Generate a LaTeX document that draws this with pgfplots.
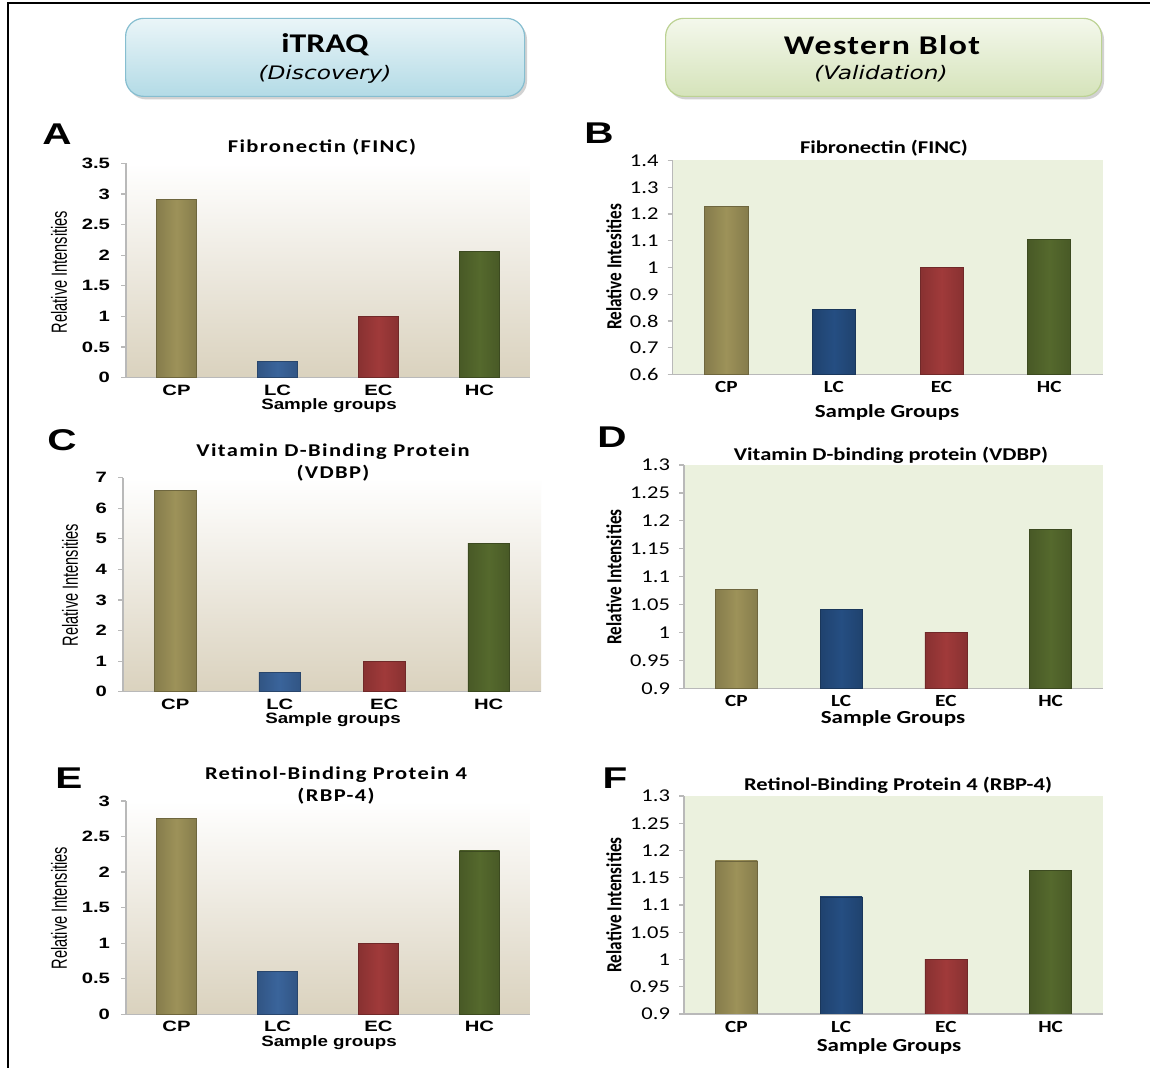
\documentclass[border=0pt]{standalone}
\usepackage{pgfplots}
\pgfplotsset{compat=1.18}
\usepackage{fontspec}
\setmainfont{Carlito}
\newfontfamily\arialf{Liberation Sans}
\newfontfamily\dejavu{DejaVu Sans}
\newfontfamily\carls[LetterSpace=6]{Carlito}
\newfontfamily\carlw[LetterSpace=4]{Carlito}
\usetikzlibrary{shadows}

\definecolor{cp}{HTML}{9D9259}
\definecolor{lcl}{HTML}{3A649B}
\definecolor{lcr}{HTML}{254E82}
\definecolor{ec}{HTML}{A03A3A}
\definecolor{hc}{HTML}{55692D}
\definecolor{tanbg}{HTML}{DAD2BE}
\definecolor{greenbg}{HTML}{EBF1DE}
\definecolor{blueTop}{HTML}{EAF5F8}
\definecolor{blueBot}{HTML}{B3DBE6}
\definecolor{blueEdge}{HTML}{86BED0}
\definecolor{grnTop}{HTML}{F4F8EC}
\definecolor{grnBot}{HTML}{D5E3BA}
\definecolor{grnEdge}{HTML}{BCD293}

\newcommand{\sx}[1]{\scalebox{1.25}[1]{#1}}
\newcommand{\sxx}[1]{\scalebox{1.35}[1]{#1}}
\newcommand{\sy}[1]{\scalebox{1}[1.5]{#1}}
\newcommand{\syr}[1]{\scalebox{1}[1.25]{#1}}

\pgfplotsset{
  common/.style={
    scale only axis, anchor=south west,
    axis lines*=left,
    xmin=-0.5, xmax=3.5, xtick={0,1,2,3},
    major x tick style={draw=none},
    tick align=outside, major tick length=2.5pt,
    axis line style={gray!55, line width=0.6pt},
    major y tick style={gray!55, line width=0.6pt},
    xticklabel style={yshift=2.5pt},
  },
  leftax/.style={
    common,
    axis background/.style={top color=white, bottom color=tanbg},
    xticklabels={\sxx{CP},\sxx{LC},\sxx{EC},\sxx{HC}},
    ticklabel style={font=\arialf\bfseries\fontsize{7.5}{8}\selectfont},
    yticklabel style={xshift=-2pt},
  },
  rightax/.style={
    common,
    axis background/.style={fill=greenbg},
    xticklabels={\sx{CP},\sx{LC},\sx{EC},\sx{HC}},
    xticklabel style={font=\bfseries\fontsize{8.5}{9}\selectfont},
    yticklabel style={font=\fontsize{9}{10}\selectfont, xshift=-1pt},
  },
  barst/.style={ybar, bar width=0.4, bar shift=0pt, draw=#1!70!black, line width=0.3pt,
    left color=#1!85!black, right color=#1!85!black, middle color=#1},
}

\begin{document}
\begin{tikzpicture}
\useasboundingbox (0,0) rectangle (575pt,534pt);
\fill[white] (0,0) rectangle (575pt,534pt);
% frame
\draw[black, line width=1.3pt] (4pt,0pt) -- (4pt,532.5pt) -- (575pt,532.5pt);

% header boxes
\node[draw=blueEdge, line width=0.6pt, rounded corners=9pt, top color=blueTop, bottom color=blueBot,
  drop shadow={shadow xshift=1.2pt, shadow yshift=-1.5pt, opacity=0.35},
  minimum width=199.5pt, minimum height=39pt, anchor=south west, inner sep=0pt] at (62.5pt,485.5pt) {};
\node[font=\bfseries\fontsize{13.5}{14}\selectfont] at (162.5pt,511.5pt) {\sx{iTRAQ}};
\node[font=\dejavu\itshape\fontsize{9.3}{10}\selectfont] at (162.5pt,497pt) {\sx{(Discovery)}};

\node[draw=grnEdge, line width=0.6pt, rounded corners=9pt, top color=grnTop, bottom color=grnBot,
  drop shadow={shadow xshift=1.2pt, shadow yshift=-1.5pt, opacity=0.35},
  minimum width=218pt, minimum height=39pt, anchor=south west, inner sep=0pt] at (332.5pt,485.5pt) {};
\node[font=\carlw\bfseries\fontsize{13.5}{14}\selectfont] at (441pt,511.5pt) {\sx{Western Blot}};
\node[font=\dejavu\itshape\fontsize{9.3}{10}\selectfont] at (440.5pt,497pt) {\sx{(Validation)}};

% ---------- A ----------
\begin{axis}[leftax, at={(63pt,345.25pt)}, width=202pt, height=107pt,
  ymin=0, ymax=3.5, ytick={0,0.5,1,1.5,2,2.5,3,3.5},
  yticklabels={\sxx{0},\sxx{0.5},\sxx{1},\sxx{1.5},\sxx{2},\sxx{2.5},\sxx{3},\sxx{3.5}}]
\addplot[barst=cp] coordinates {(0,2.915)};
\addplot[barst=lcl] coordinates {(1,0.262)};
\addplot[barst=ec] coordinates {(2,1.0)};
\addplot[barst=hc] coordinates {(3,2.067)};
\end{axis}

% ---------- B ----------
\begin{axis}[rightax, at={(336.25pt,346.75pt)}, width=215.25pt, height=107pt,
  ymin=0.6, ymax=1.4, ytick={0.6,0.7,0.8,0.9,1,1.1,1.2,1.3,1.4},
  yticklabels={\sx{0.6},\sx{0.7},\sx{0.8},\sx{0.9},\sx{1},\sx{1.1},\sx{1.2},\sx{1.3},\sx{1.4}}]
\addplot[barst=cp] coordinates {(0,1.229)};
\addplot[barst=lcr] coordinates {(1,0.842)};
\addplot[barst=ec] coordinates {(2,1.0)};
\addplot[barst=hc] coordinates {(3,1.104)};
\end{axis}

% ---------- C ----------
\begin{axis}[leftax, at={(61.5pt,188.15pt)}, width=209pt, height=107pt,
  ymin=0, ymax=7, ytick={0,1,2,3,4,5,6,7},
  yticklabels={\sxx{0},\sxx{1},\sxx{2},\sxx{3},\sxx{4},\sxx{5},\sxx{6},\sxx{7}}]
\addplot[barst=cp] coordinates {(0,6.58)};
\addplot[barst=lcl] coordinates {(1,0.63)};
\addplot[barst=ec] coordinates {(2,1.0)};
\addplot[barst=hc] coordinates {(3,4.86)};
\end{axis}

% ---------- D ----------
\begin{axis}[rightax, at={(342pt,189.85pt)}, width=209.5pt, height=111.65pt,
  ymin=0.9, ymax=1.3, ytick={0.9,0.95,1,1.05,1.1,1.15,1.2,1.25,1.3},
  yticklabels={\sx{0.9},\sx{0.95},\sx{1},\sx{1.05},\sx{1.1},\sx{1.15},\sx{1.2},\sx{1.25},\sx{1.3}}]
\addplot[barst=cp] coordinates {(0,1.077)};
\addplot[barst=lcr] coordinates {(1,1.042)};
\addplot[barst=ec] coordinates {(2,1.0)};
\addplot[barst=hc] coordinates {(3,1.185)};
\end{axis}

% ---------- E ----------
\begin{axis}[leftax, at={(63pt,26.85pt)}, width=202pt, height=106.65pt,
  ymin=0, ymax=3, ytick={0,0.5,1,1.5,2,2.5,3},
  yticklabels={\sxx{0},\sxx{0.5},\sxx{1},\sxx{1.5},\sxx{2},\sxx{2.5},\sxx{3}}]
\addplot[barst=cp] coordinates {(0,2.756)};
\addplot[barst=lcl] coordinates {(1,0.605)};
\addplot[barst=ec] coordinates {(2,1.0)};
\addplot[barst=hc] coordinates {(3,2.297)};
\end{axis}

% ---------- F ----------
\begin{axis}[rightax, at={(342pt,27pt)}, width=209.5pt, height=109pt,
  ymin=0.9, ymax=1.3, ytick={0.9,0.95,1,1.05,1.1,1.15,1.2,1.25,1.3},
  yticklabels={\sx{0.9},\sx{0.95},\sx{1},\sx{1.05},\sx{1.1},\sx{1.15},\sx{1.2},\sx{1.25},\sx{1.3}}]
\addplot[barst=cp] coordinates {(0,1.181)};
\addplot[barst=lcr] coordinates {(1,1.115)};
\addplot[barst=ec] coordinates {(2,1.0)};
\addplot[barst=hc] coordinates {(3,1.163)};
\end{axis}

% panel letters
\begin{scope}[every node/.style={font=\arialf\bfseries\fontsize{15}{16}\selectfont}]
\node at (28.5pt,467pt) {\sxx{A}};
\node at (299.5pt,467.5pt) {\sxx{B}};
\node at (31pt,314pt) {\sxx{C}};
\node at (306pt,315.5pt) {\sxx{D}};
\node at (34.5pt,145pt) {\sxx{E}};
\node at (307.5pt,145pt) {\sxx{F}};
\end{scope}

% titles
\begin{scope}[every node/.style={font=\carls\bfseries\fontsize{9}{10}\selectfont}]
\node at (161pt,460.5pt) {\sx{Fibronectin (FINC)}};
\node at (166.5pt,308pt) {\sx{Vitamin D-Binding Protein}};
\node at (166.5pt,297.5pt) {\sx{(VDBP)}};
\node at (168pt,146.5pt) {\sx{Retinol-Binding Protein 4}};
\node at (168pt,136pt) {\sx{(RBP-4)}};
\end{scope}
\begin{scope}[every node/.style={font=\bfseries\fontsize{9}{10}\selectfont}]
\node at (442pt,460pt) {\sx{Fibronectin (FINC)}};
\node at (445.5pt,306.5pt) {\sx{Vitamin D-binding protein (VDBP)}};
\node at (449pt,141.5pt) {\sx{Retinol-Binding Protein 4 (RBP-4)}};
\end{scope}

% y labels
\begin{scope}[every node/.style={rotate=90, font=\arialf\fontsize{7.3}{8}\selectfont}]
\node at (29.5pt,398pt) {\sy{Relative Intensities}};
\node at (35pt,241.5pt) {\sy{Relative Intensities}};
\node at (29.5pt,80pt) {\sy{Relative Intensities}};
\end{scope}
\begin{scope}[every node/.style={rotate=90, font=\bfseries\fontsize{8.6}{9}\selectfont}]
\node at (307pt,400.5pt) {\syr{Relative Intesities}};
\node at (307pt,245.5pt) {\syr{Relative Intensities}};
\node at (307pt,81.5pt) {\syr{Relative Intensities}};
\end{scope}

% x labels
\begin{scope}[every node/.style={font=\arialf\bfseries\fontsize{7.5}{8}\selectfont}]
\node at (164.5pt,331pt) {\sx{Sample groups}};
\node at (166.5pt,174pt) {\sx{Sample groups}};
\node at (164.5pt,12.5pt) {\sx{Sample groups}};
\end{scope}
\begin{scope}[every node/.style={font=\bfseries\fontsize{9.2}{10}\selectfont}]
\node at (443.5pt,327.5pt) {\sx{Sample Groups}};
\node at (446.5pt,174.5pt) {\sx{Sample Groups}};
\node at (444.5pt,11pt) {\sx{Sample Groups}};
\end{scope}
\end{tikzpicture}
\end{document}
